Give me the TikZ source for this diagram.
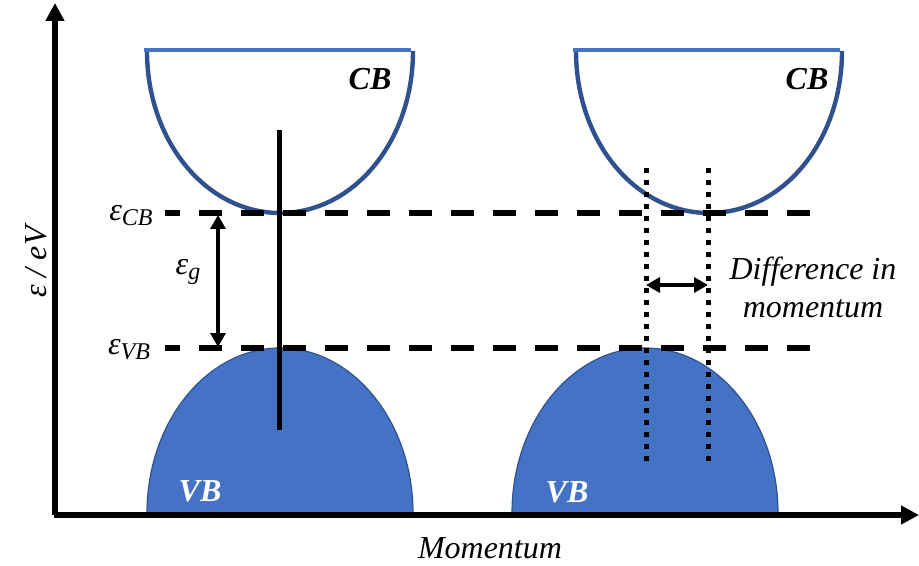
\documentclass[tikz,border=0pt]{standalone}
\usepackage{fontspec}
\setmainfont{Liberation Serif}
\usetikzlibrary{arrows.meta,calc}
\definecolor{bandfill}{HTML}{4472C4}
\definecolor{bandline}{HTML}{2F528F}
\definecolor{bandtop}{HTML}{4472C4}
\newcommand{\eband}[1]{ε\raisebox{-0.35ex}{\fontsize{12}{14}\selectfont #1}}

\begin{document}
\begin{tikzpicture}[x=0.5pt,y=-0.5pt,
  axis/.style={line width=2.6pt,-{Triangle[length=9pt,width=9pt]}},
  level/.style={line width=3pt,dash pattern=on 11.5pt off 9.5pt,dash phase=4pt},
  kline/.style={line width=2.5pt,dash pattern=on 2.5pt off 3.5pt},
  gap/.style={line width=1.7pt,{Triangle[length=7pt,width=7.5pt]}-{Triangle[length=7pt,width=7.5pt]}},
  cbedge/.style={draw=bandline,line width=2.2pt},
  cbtop/.style={draw=bandtop,line width=2.2pt},
  vbbody/.style={fill=bandfill,draw=bandline,line width=0.6pt},
  lbl/.style={font=\fontsize{16}{19}\selectfont\itshape},
  bandlbl/.style={font=\fontsize{16}{19}\selectfont\bfseries\itshape}]
  \useasboundingbox (0,0) rectangle (919,566);
  % valence bands
  \foreach \c in {280,645}
    \path[vbbody] (\c-133,513) .. controls (\c-133,422) and (\c-73,348) .. (\c,348)
      .. controls (\c+73,348) and (\c+133,422) .. (\c+133,513) -- cycle;
  % conduction bands
  \foreach \c in {280,709} {
    \draw[cbedge] (\c-133,51) .. controls (\c-133,141) and (\c-74,213) .. (\c,213)
      .. controls (\c+74,213) and (\c+133,141) .. (\c+133,51);
    \draw[cbtop] (\c-136,50) -- (\c+131,50);
  }
  % axes
  \coordinate (O) at (55,515);
  \coordinate (ytip) at (55,3);
  \coordinate (xtip) at (919,515);
  \coordinate (Ox) at (53.7,515);
  \draw[axis] (O) -- (ytip);
  \draw[axis] (Ox) -- (xtip);
  % band edges
  \coordinate (cbA) at (165,213);
  \coordinate (cbB) at (820,213);
  \coordinate (vbA) at (165,348);
  \coordinate (vbB) at (820,348);
  \draw[level] (cbA) -- (cbB);
  \draw[level] (vbA) -- (vbB);
  % direct gap
  \coordinate (dTop) at (279,130);
  \coordinate (dBot) at (279,430);
  \draw[line width=2.5pt] (dTop) -- (dBot);
  \coordinate (gTop) at (218,215);
  \coordinate (gBot) at (218,347);
  \draw[gap] (gTop) -- (gBot);
  % indirect gap
  \coordinate (kvTop) at (646,168);
  \coordinate (kvBot) at (646,462);
  \coordinate (kcTop) at (708,168);
  \coordinate (kcBot) at (708,462);
  \draw[kline] (kvTop) -- (kvBot);
  \draw[kline] (kcTop) -- (kcBot);
  \coordinate (kA) at (646,285);
  \coordinate (kB) at (708,285);
  \draw[gap] (kA) -- (kB);
  % labels
  \node[bandlbl] (cbL) at (370,79) {CB};
  \node[bandlbl] (cbR) at (807,79) {CB};
  \node[bandlbl,text=white] (vbL) at (200,491) {VB};
  \node[bandlbl,text=white] (vbR) at (567,492) {VB};
  \node[lbl] (ecb) at (131,216) {\eband{CB}};
  \node[lbl] (evb) at (129,350) {\eband{VB}};
  \node[lbl] (eg) at (188,272) {\eband{g}};
  \node[lbl,rotate=90] (ylab) at (36,262) {ε / eV};
  \node[lbl] (xlab) at (490,548) {Momentum};
  \node[lbl,align=center] (dk) at (813,287) {Difference in\\momentum};
\end{tikzpicture}
\end{document}
